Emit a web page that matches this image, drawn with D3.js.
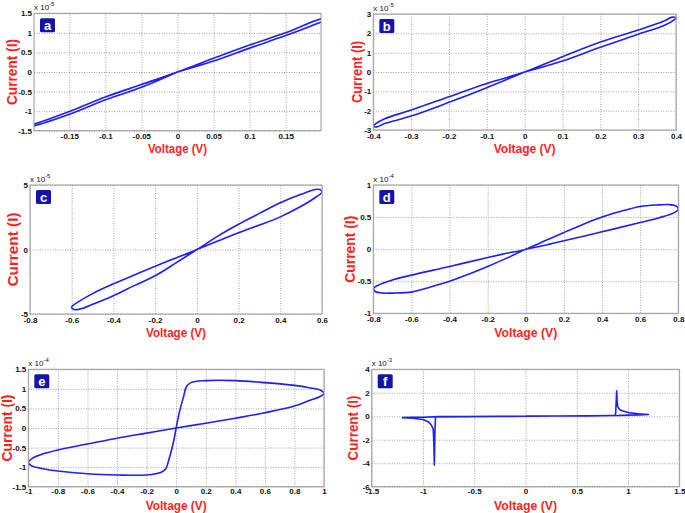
<!DOCTYPE html>
<html><head><meta charset="utf-8">
<script src="https://cdn.jsdelivr.net/npm/d3@7"></script>
<style>
html,body{margin:0;padding:0;background:#fff;}
svg{display:block;font-family:"Liberation Sans",Arial,sans-serif;}
</style></head>
<body>
<svg id="chart" width="685" height="513"></svg>
<script>
// ---------------- DATA ----------------
// Panel a (current x 1e-5)
const aV = [0, 0.05, 0.10, 0.15, 0.20, 0.212, 0.20, 0.15, 0.10, 0.05, 0, -0.05, -0.10, -0.15, -0.20, -0.212, -0.20, -0.15, -0.10, -0.05, 0];
const aI = [0, 0.28, 0.61, 0.93, 1.28, 1.36, 1.36, 1.00, 0.69, 0.35, 0, -0.32, -0.64, -1.01, -1.34, -1.40, -1.38, -1.08, -0.71, -0.39, 0];
// Panel b (x 1e-5)
const bV = [0, 0.10, 0.20, 0.30, 0.37, 0.395, 0.40, 0.39, 0.37, 0.30, 0.20, 0.10, 0, -0.10, -0.20, -0.30, -0.37, -0.395, -0.40, -0.39, -0.37, -0.30, -0.20, -0.10, 0];
const bI = [0, 0.57, 1.28, 1.95, 2.42, 2.70, 2.80, 2.84, 2.65, 2.17, 1.55, 0.79, 0, -0.59, -1.28, -1.97, -2.42, -2.70, -2.80, -2.84, -2.67, -2.28, -1.57, -0.81, 0];
// Panel c (x 1e-5)
const cV = [0, 0.10, 0.20, 0.30, 0.40, 0.50, 0.57, 0.60, 0.595, 0.58, 0.55, 0.50, 0.40, 0.30, 0.20, 0.10, 0, -0.10, -0.20, -0.30, -0.40, -0.50, -0.57, -0.60, -0.595, -0.58, -0.55, -0.50, -0.40, -0.30, -0.20, -0.10, 0];
const cI = [0, 0.65, 1.30, 1.90, 2.53, 3.35, 4.05, 4.45, 4.60, 4.67, 4.58, 4.28, 3.62, 2.80, 1.96, 1.04, 0, -0.65, -1.30, -1.98, -2.66, -3.42, -4.08, -4.45, -4.60, -4.67, -4.58, -4.25, -3.58, -2.80, -2.04, -1.04, 0];
// Panel d (x 1e-4)
const dV = [0, 0.10, 0.20, 0.40, 0.60, 0.70, 0.78, 0.80, 0.79, 0.75, 0.70, 0.60, 0.50, 0.40, 0.30, 0.20, 0.10, 0, -0.10, -0.20, -0.40, -0.60, -0.70, -0.78, -0.80, -0.79, -0.75, -0.70, -0.60, -0.50, -0.40, -0.30, -0.20, -0.10, 0];
const dI = [0, 0.06, 0.13, 0.27, 0.415, 0.49, 0.57, 0.62, 0.67, 0.695, 0.69, 0.665, 0.59, 0.50, 0.385, 0.26, 0.13, 0, -0.065, -0.13, -0.27, -0.405, -0.48, -0.57, -0.62, -0.66, -0.685, -0.685, -0.67, -0.59, -0.50, -0.39, -0.27, -0.14, 0];
// Panel e (x 1e-4)
const eV = [0, 0.02, 0.05, 0.07, 0.10, 0.20, 0.40, 0.60, 0.80, 0.90, 0.98, 1.00, 0.97, 0.90, 0.80, 0.60, 0.40, 0.20, 0, -0.20, -0.40, -0.60, -0.80, -0.90, -0.97, -1.00, -0.98, -0.90, -0.80, -0.60, -0.40, -0.20, -0.10, -0.07, -0.05, -0.02, 0];
const eI = [0, 0.375, 0.80, 1.06, 1.16, 1.21, 1.21, 1.16, 1.09, 1.03, 0.96, 0.88, 0.80, 0.70, 0.56, 0.39, 0.25, 0.12, 0, -0.13, -0.26, -0.41, -0.56, -0.66, -0.77, -0.88, -0.96, -1.04, -1.10, -1.17, -1.20, -1.20, -1.13, -1.04, -0.82, -0.39, 0];
// Panel f (x 1e-3)
const fV = [0, 0.30, 0.60, 0.85, 0.878, 0.884, 0.889, 0.894, 0.90, 0.92, 0.95, 1.00, 1.10, 1.20, 1.10, 1.00, 0.90, 0.60, 0.30, 0, -0.30, -0.60, -0.87, -0.878, -0.884, -0.889, -0.894, -0.90, -0.92, -0.95, -1.00, -1.10, -1.20, -1.10, -1.00, -0.90, -0.60, -0.30, 0];
const fI = [0.01, 0.02, 0.035, 0.05, 0.10, 1.10, 2.16, 1.20, 0.80, 0.56, 0.44, 0.32, 0.20, 0.15, 0.12, 0.10, 0.07, 0.04, 0.02, 0, -0.01, -0.02, -0.03, -0.10, -1.50, -4.15, -2.20, -1.10, -0.72, -0.46, -0.28, -0.17, -0.12, -0.09, -0.08, -0.05, -0.03, -0.015, 0];

// Axis domains and ticks
const aXDomain = [-0.199, 0.199], aYDomain = [-1.5, 1.5];
const bXDomain = [-0.4, 0.4],     bYDomain = [-3, 3];
const cXDomain = [-0.8, 0.6],     cYDomain = [-5, 5];
const dXDomain = [-0.8, 0.8],     dYDomain = [-1, 1];
const eXDomain = [-1, 1],         eYDomain = [-1.5, 1.5];
const fXDomain = [-1.5, 1.5],     fYDomain = [-6, 4];

const aXTicks = [-0.15, -0.1, -0.05, 0, 0.05, 0.1, 0.15];
const aYTicks = [-1.5, -1, -0.5, 0, 0.5, 1, 1.5];
const bXTicks = [-0.4, -0.3, -0.2, -0.1, 0, 0.1, 0.2, 0.3, 0.4];
const bYTicks = [-3, -2, -1, 0, 1, 2, 3];
const cXTicks = [-0.8, -0.6, -0.4, -0.2, 0, 0.2, 0.4, 0.6];
const cYTicks = [-5, 0, 5];
const dXTicks = [-0.8, -0.6, -0.4, -0.2, 0, 0.2, 0.4, 0.6, 0.8];
const dYTicks = [-1, -0.5, 0, 0.5, 1];
const eXTicks = [-1, -0.8, -0.6, -0.4, -0.2, 0, 0.2, 0.4, 0.6, 0.8, 1];
const eYTicks = [-1.5, -1, -0.5, 0, 0.5, 1, 1.5];
const fXTicks = [-1.5, -1, -0.5, 0, 0.5, 1, 1.5];
const fYTicks = [-6, -4, -2, 0, 2, 4];

const panelLetters = ["a", "b", "c", "d", "e", "f"];
const exponents = ["-5", "-5", "-5", "-4", "-4", "-3"];
const xLabel = "Voltage (V)";
const yLabel = "Current (I)";

// ---------------- LAYOUT ----------------
const panels = [
  {V:aV, I:aI, xd:aXDomain, yd:aYDomain, xt:aXTicks, yt:aYTicks, L:34,  R:321, T:13.3, B:130.7, ylx:12,  yll:66, xlb:153, xll:59, tp:3},
  {V:bV, I:bI, xd:bXDomain, yd:bYDomain, xt:bXTicks, yt:bYTicks, L:373.3, R:676, T:14, B:130, ylx:357, yll:62, xlb:153, xll:62, tp:3},
  {V:cV, I:cI, xd:cXDomain, yd:cYDomain, xt:cXTicks, yt:cYTicks, L:30,  R:322, T:185, B:314, ylx:12.5, yll:74, xlb:337, xll:60, tp:3},
  {V:dV, I:dI, xd:dXDomain, yd:dYDomain, xt:dXTicks, yt:dYTicks, L:373.3, R:678.3, T:185, B:313.3, ylx:350, yll:67, xlb:337, xll:63, tp:3},
  {V:eV, I:eI, xd:eXDomain, yd:eYDomain, xt:eXTicks, yt:eYTicks, L:28.3, R:324, T:369.3, B:486.7, ylx:6.5, yll:67, xlb:509.5, xll:61, tp:2},
  {V:fV, I:fI, xd:fXDomain, yd:fYDomain, xt:fXTicks, yt:fYTicks, L:371.7, R:679.3, T:369.3, B:486.7, ylx:353, yll:65, xlb:509.5, xll:63, tp:2}
];

const svg = d3.select("#chart");
const fmt = d => String(parseFloat(d.toFixed(4)));

panels.forEach((p, i) => {
  const w = p.R - p.L, h = p.B - p.T;
  const x = d3.scaleLinear().domain(p.xd).range([0, w]);
  const y = d3.scaleLinear().domain(p.yd).range([h, 0]);
  const g = svg.append("g").attr("transform", `translate(${p.L},${p.T})`);

  g.append("rect").attr("width", w).attr("height", h).attr("fill", "#fff");

  // grid
  const gx = g.append("g").attr("transform", `translate(0,${h})`)
    .call(d3.axisBottom(x).tickValues(p.xt).tickSize(-h).tickFormat(""));
  const gy = g.append("g")
    .call(d3.axisLeft(y).tickValues(p.yt).tickSize(-w).tickFormat(""));
  [gx, gy].forEach(s => {
    s.select(".domain").remove();
    s.selectAll("line").attr("stroke", "#8a8a8a").attr("stroke-width", 0.8).attr("stroke-dasharray", "1,1.5");
  });

  // tick labels
  const lx = g.append("g").attr("transform", `translate(0,${h})`)
    .call(d3.axisBottom(x).tickValues(p.xt).tickSize(0).tickPadding(p.tp).tickFormat(fmt));
  const ly = g.append("g")
    .call(d3.axisLeft(y).tickValues(p.yt).tickSize(0).tickPadding(2).tickFormat(fmt));
  [lx, ly].forEach(s => {
    s.select(".domain").remove();
    s.selectAll("text").attr("font-size", 8).attr("font-weight", "bold").attr("fill", "#111")
      .attr("font-family", "'Liberation Sans', Arial, sans-serif");
  });

  // curve
  const clipId = "clip" + i;
  g.append("clipPath").attr("id", clipId).append("rect").attr("width", w).attr("height", h);
  const pts = p.V.map((v, k) => [v, p.I[k]]);
  const line = d3.line().x(d => x(d[0])).y(d => y(d[1]))
    .curve(i === 5 ? d3.curveLinear : d3.curveCatmullRom.alpha(0.5));
  g.append("path").datum(pts).attr("clip-path", `url(#${clipId})`)
    .attr("d", line).attr("fill", "none").attr("stroke", "#1f1ff7")
    .attr("stroke-width", 1.6).attr("stroke-linejoin", "round");

  // frame
  g.append("rect").attr("width", w).attr("height", h).attr("fill", "none")
    .attr("stroke", "#9a9a9a").attr("stroke-width", 1);

  // badge
  const bx = 6, by = 5;
  g.append("rect").attr("x", bx).attr("y", by).attr("width", 15).attr("height", 14)
    .attr("rx", 1.5).attr("fill", "#1414a8");
  g.append("text").attr("x", bx + 7.5).attr("y", by + 11.5).attr("text-anchor", "middle")
    .attr("font-size", 13).attr("font-weight", "bold").attr("fill", "#fff")
    .text(panelLetters[i]);

  // exponent
  const ex = g.append("text").attr("x", 0).attr("y", -3).attr("font-size", 8).attr("fill", "#111");
  ex.append("tspan").text("x 10");
  ex.append("tspan").attr("dy", -4).attr("font-size", 6).text(exponents[i]);

  // axis titles
  svg.append("text").attr("x", p.L + w / 2).attr("y", p.xlb).attr("text-anchor", "middle")
    .attr("font-size", 13).attr("font-weight", "bold").attr("fill", "#ff1f1f")
    .attr("textLength", p.xll).attr("lengthAdjust", "spacingAndGlyphs").text(xLabel);
  svg.append("text").attr("transform", `translate(${p.ylx},${p.T + h / 2}) rotate(-90)`)
    .attr("text-anchor", "middle").attr("dominant-baseline", "central")
    .attr("font-size", 14).attr("font-weight", "bold").attr("fill", "#ff1f1f")
    .attr("textLength", p.yll).attr("lengthAdjust", "spacingAndGlyphs").text(yLabel);
});
</script>
</body></html>
